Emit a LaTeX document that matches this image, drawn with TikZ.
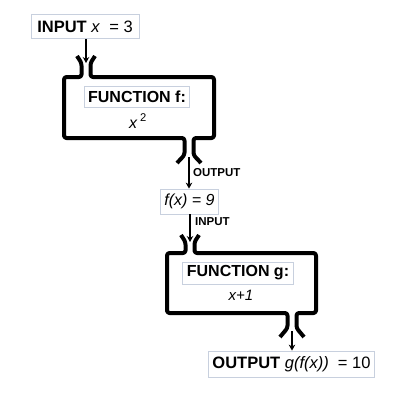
\documentclass[tikz,border=0pt]{standalone}
\usepackage{fontspec}
\setmainfont{Liberation Sans}
\usetikzlibrary{arrows.meta}
\definecolor{labelrim}{RGB}{200,208,222}
\tikzset{
	funcbox/.style={line width=4pt, rounded corners=2.5pt, line join=round},
	labelbox/.style={draw=labelrim, line width=0.8pt, fill=white, inner xsep=4pt, inner ysep=3pt},
	flow/.style={line width=1.2pt, -{Stealth[length=6pt,width=6.5pt]}},
	tag/.style={font=\fontsize{11.5}{12}\selectfont\bfseries, anchor=west, inner sep=0pt},
}

\begin{document}
\begin{tikzpicture}[x=1pt, y=-1pt]
			%%%%% START %%%%%
			\useasboundingbox[fill=white] (0, 0) rectangle (400, 400);
			
			% function f
			\draw[funcbox] (95, 56) -- (90.5, 63) -- (90.5, 77) -- (214, 77) -- (214, 138) -- (193.5, 138) -- (193.5, 155) -- (201, 163);
			\draw[funcbox] (177, 163) -- (184.5, 155) -- (184.5, 138) -- (64, 138) -- (64, 77) -- (81.5, 77) -- (81.5, 63) -- (77, 56);
			\coordinate (fin) at (86, 63);
			\coordinate (fout) at (189, 157);
			
			% function g
			\draw[funcbox] (199, 235) -- (194.5, 242) -- (194.5, 253) -- (316, 253) -- (316, 313) -- (296.5, 313) -- (296.5, 328) -- (304, 337);
			\draw[funcbox] (280, 337) -- (287.5, 328) -- (287.5, 313) -- (167, 313) -- (167, 253) -- (185.5, 253) -- (185.5, 242) -- (181, 235);
			\coordinate (gin) at (190, 242);
			\coordinate (gout) at (292, 331);
			
			% labels
			\node[labelbox, font=\fontsize{16.5}{19}\selectfont, minimum width=108pt, minimum height=24pt] (inbox) at (85, 26.5) {\textbf{INPUT} \textit{x} \ = 3};
			\node[labelbox, font=\fontsize{16}{18}\selectfont\bfseries, minimum width=100pt, minimum height=21pt] (fname) at (137, 97) {FUNCTION f:};
			\node[font=\fontsize{16}{18}\selectfont] (frule) at (138, 121) {\textit{x}\,\textsuperscript{2}};
			\node[labelbox, font=\fontsize{16}{18}\selectfont\itshape, minimum width=55pt, minimum height=25pt] (fxbox) at (189.5, 201.5) {f(x) = 9};
			\node[labelbox, font=\fontsize{16}{18}\selectfont\bfseries, minimum width=102pt, minimum height=22pt] (gname) at (238, 273) {FUNCTION g:};
			\node[font=\fontsize{15}{17}\selectfont\itshape] (grule) at (241, 295) {x+1};
			\node[labelbox, font=\fontsize{16.5}{19}\selectfont, minimum width=165pt, minimum height=26pt] (outbox) at (291.5, 364) {\textbf{OUTPUT} \textit{g(f(x))} \ = 10};
			
			% connectors
			\draw[flow] (fin |- inbox.south) -- (fin);
			\draw[flow] (fout) -- (fout |- fxbox.north);
			\draw[flow] (gin |- fxbox.south) -- (gin);
			\draw[flow] (gout) -- (gout |- outbox.north);
			\node[tag] (outtag) at (193, 173) {OUTPUT};
			\node[tag] (intag) at (195, 222) {INPUT};
			
			%%%%% END %%%%%
		\end{tikzpicture}
\end{document}
